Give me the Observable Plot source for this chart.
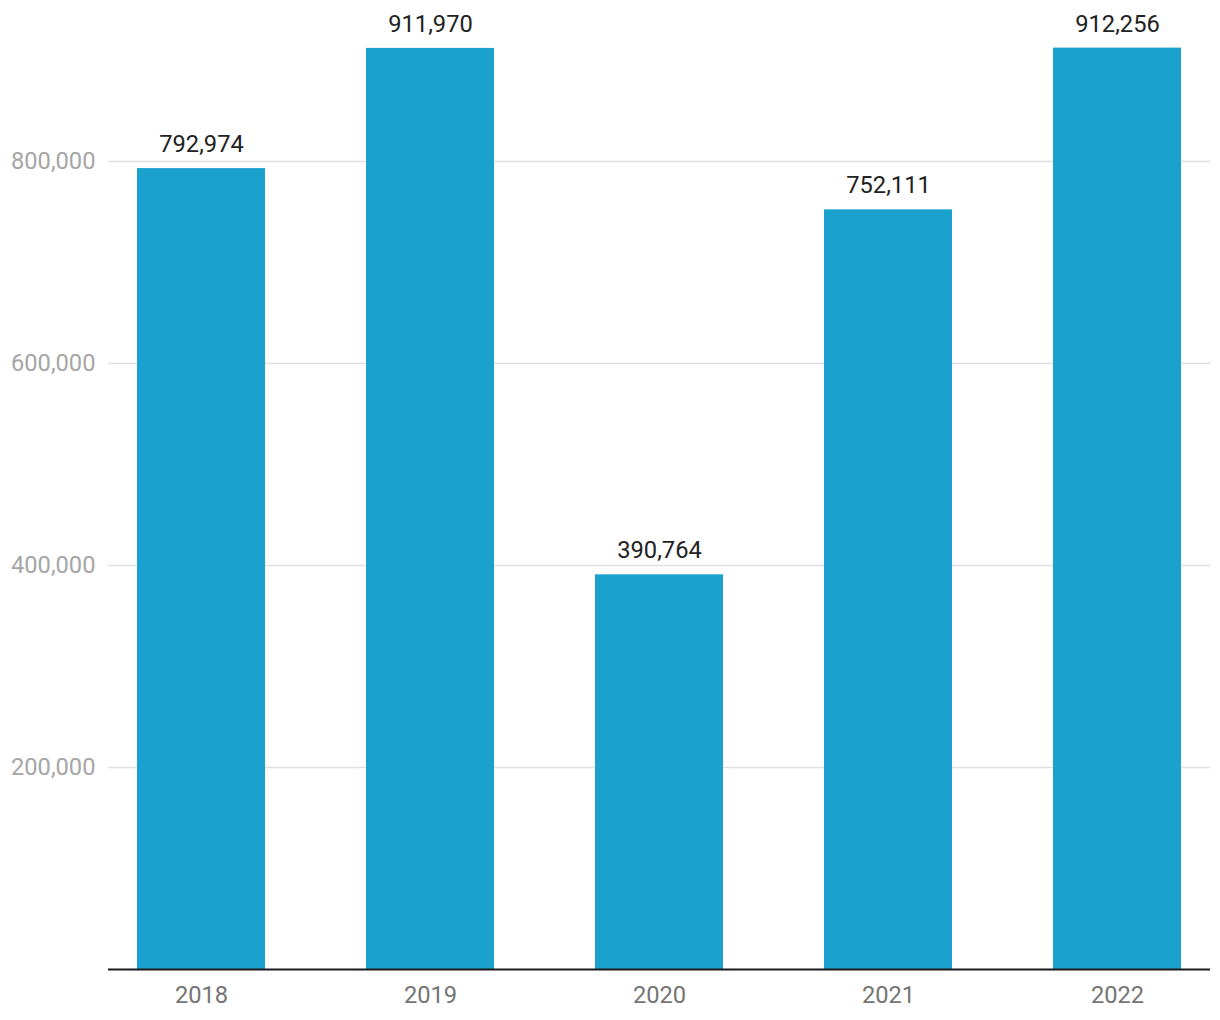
<!DOCTYPE html>
<html>
<head>
<meta charset="utf-8">
<script src="https://cdn.jsdelivr.net/npm/d3@7"></script>
<script src="https://cdn.jsdelivr.net/npm/@observablehq/plot@0.6"></script>
<style>
  html, body { margin: 0; padding: 0; background: #fff; }
  #chart { width: 1220px; height: 1020px; }
  svg { font-family: Roboto, "Noto Sans", sans-serif; }
</style>
</head>
<body>
<div id="chart"></div>
<script>
const years = ["2018", "2019", "2020", "2021", "2022"];
const values = [792974, 911970, 390764, 752111, 912256];
const yTicks = [200000, 400000, 600000, 800000];

const data = years.map((y, i) => ({year: y, value: values[i]}));
const fmt = d3.format(",");

const chart = Plot.plot({
  width: 1220,
  height: 1020,
  marginTop: 0,
  marginBottom: 51,
  marginLeft: 108,
  marginRight: 10,
  style: {fontFamily: "Roboto, 'Noto Sans', sans-serif", background: "#fff"},
  x: {domain: years, paddingInner: 0.441, paddingOuter: 0.117, label: null},
  y: {domain: [0, 959400], label: null},
  marks: [
    Plot.gridY(yTicks, {stroke: "#e0e0e0", strokeOpacity: 1, strokeWidth: 1.5}),
    Plot.axisY(yTicks, {tickSize: 0, tickPadding: 13, fontSize: 23.7, color: "#a6a6a6", tickFormat: fmt, label: null}),
    Plot.axisX({tickSize: 0, tickPadding: 17, fontSize: 23.7, color: "#757575", label: null}),
    Plot.barY(data, {x: "year", y: "value", fill: "#1aa1ce"}),
    Plot.ruleY([0], {stroke: "#1a1a1a", strokeWidth: 2}),
    Plot.text(data, {x: "year", y: "value", text: d => fmt(d.value), dy: -24, fontSize: 23.7, fill: "#222"})
  ]
});
document.getElementById("chart").appendChild(chart);
</script>
</body>
</html>
